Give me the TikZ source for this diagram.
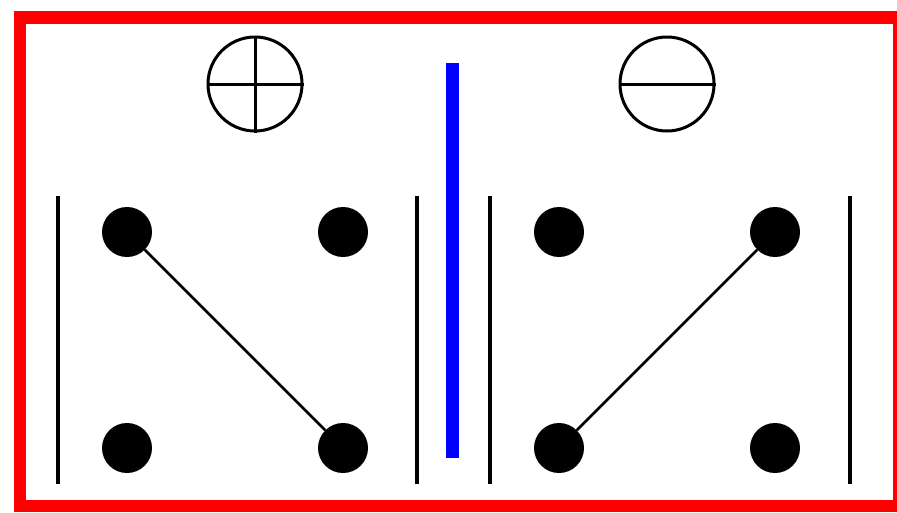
\documentclass[tikz,border=0pt]{standalone}
\begin{document}
\begin{tikzpicture}[x=1pt,y=-1pt,
  dot/.style={circle,fill=black,inner sep=0pt,minimum size=50pt},
  sym/.style={circle,draw=black,line width=3pt,inner sep=0pt,minimum size=94pt},
  bond/.style={draw=black,line width=2.5pt},
  wall/.style={draw=black,line width=4pt},
  frame/.style={draw=red,line width=12.5pt}]
\clip (0,0) rectangle (897,512);
\fill[white] (0,0) rectangle (897,512);
\draw[frame] (20,17.5) rectangle (899.5,506);
% plus and minus symbols
\node[sym] (plus) at (255,84) {};
\draw[line width=3pt] (plus.north) -- (plus.south) (plus.west) -- (plus.east);
\node[sym] (minus) at (667,84) {};
\draw[line width=3pt] (minus.west) -- (minus.east);
% blue separator
\fill[blue] (446,63) rectangle (459,458);
% walls
\draw[wall] (58,196) -- (58,484);
\draw[wall] (417,196) -- (417,484);
\draw[wall] (490,196) -- (490,484);
\draw[wall] (850,196) -- (850,484);
% left panel dots
\node[dot] (a1) at (127,232) {};
\node[dot] (a2) at (343,232) {};
\node[dot] (a3) at (127,448) {};
\node[dot] (a4) at (343,448) {};
% right panel dots
\node[dot] (b1) at (559,232) {};
\node[dot] (b2) at (775,232) {};
\node[dot] (b3) at (559,448) {};
\node[dot] (b4) at (775,448) {};
% bonds
\draw[bond] (a1) -- (a4);
\draw[bond] (b2) -- (b3);
\end{tikzpicture}
\end{document}
